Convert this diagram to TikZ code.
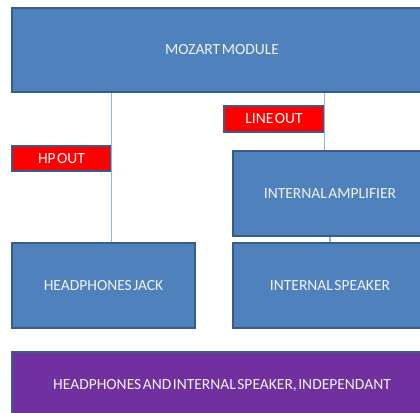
\documentclass[tikz,border=0pt]{standalone}
\usepackage{fontspec}
\setmainfont{Carlito}
\definecolor{boxblue}{HTML}{4F81BD}
\definecolor{boxedge}{HTML}{385D8A}
\definecolor{linkblue}{HTML}{95B3D7}
\definecolor{sumpurple}{HTML}{7030A0}
\newcommand{\boxfont}{\fontsize{15.5}{17}\selectfont\spaceskip=0.1em plus 0.05em\relax}
\begin{document}
\begin{tikzpicture}[x=1pt, y=-1pt,
  block/.style={draw=boxedge, line width=1.5pt, fill=boxblue, text=white!95!black,
    inner sep=0pt, font=\boxfont},
  tag/.style={draw=boxedge, line width=1.5pt, fill=red, text=white,
    inner sep=0pt, font=\boxfont},
  link/.style={draw=linkblue, line width=1.3pt}]
  \clip (0, 0) rectangle (420, 412);
  \useasboundingbox (0, 0) rectangle (420, 412);
  \node (mozart) [block, minimum width=420pt, minimum height=84pt] at (222, 50) {MOZART MODULE};
  \node (lineout) [tag, minimum width=100pt, minimum height=26pt] at (274, 119) {LINE OUT};
  \node (hpout) [tag, minimum width=99pt, minimum height=25pt] at (61.5, 158.5) {HP OUT};
  \node (amp) [block, minimum width=194pt, minimum height=85pt] at (330, 193.5) {INTERNAL AMPLIFIER};
  \node (hpjack) [block, minimum width=183pt, minimum height=85pt] at (103.5, 285.5) {HEADPHONES JACK};
  \node (speaker) [block, minimum width=194pt, minimum height=85pt] at (330, 285.5) {INTERNAL SPEAKER};
  \node (summary) [block, fill=sumpurple, minimum width=420pt, minimum height=66pt] at (222, 385)
    {HEADPHONES AND INTERNAL SPEAKER, INDEPENDANT};

  \draw [link] (hpout.east |- mozart.south) -- (hpout.east |- hpjack.north);
  \draw [link] (lineout.east |- mozart.south) -- (lineout.east |- amp.north);
  \draw [link] (amp.south) -- (speaker.north);
\end{tikzpicture}
\end{document}
